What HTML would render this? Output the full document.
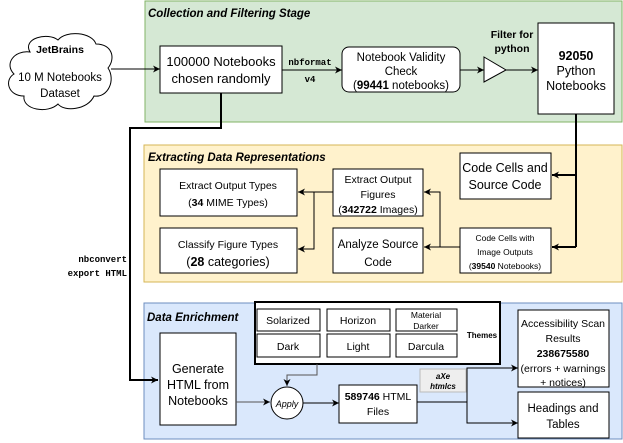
<!DOCTYPE html>
<html><head><meta charset="utf-8"><style>
html,body{margin:0;padding:0;background:#fff}
svg{display:block}
text{font-family:"Liberation Sans",sans-serif;fill:#000}
.m{font-family:"Liberation Mono",monospace;font-weight:bold}
</style></head><body>
<svg width="623" height="443" viewBox="0 0 623 443" xmlns="http://www.w3.org/2000/svg">
<defs>
<marker id="a" markerWidth="8" markerHeight="8" refX="7" refY="4" orient="auto" markerUnits="userSpaceOnUse"><path d="M0,0.5 L7,4 L0,7.5 L2,4 Z" fill="#000"/></marker>
</defs>
<rect x="145" y="1" width="477" height="121" fill="#d5e8d4" stroke="#82b366"/>
<rect x="144" y="145" width="478" height="137" fill="#fff2cc" stroke="#d6b656"/>
<rect x="144" y="303" width="478" height="136" fill="#dae8fc" stroke="#6c8ebf"/>
<text x="148" y="17" font-size="11.5" font-weight="bold" font-style="italic">Collection and Filtering Stage</text>
<text x="148" y="161" font-size="11.5" font-weight="bold" font-style="italic">Extracting Data Representations</text>
<text x="147" y="321" font-size="11.5" font-weight="bold" font-style="italic">Data Enrichment</text>

<path d="M30,52 C22,38 48,32 58,40 C66,30 92,32 96,44 C112,44 116,58 108,68 C116,80 108,98 94,96 C88,110 64,112 58,104 C48,114 22,110 24,96 C8,96 4,80 14,74 C4,64 14,50 30,52 Z" fill="#fff" stroke="#000"/>
<text x="60" y="53" font-size="10.5" font-weight="bold" text-anchor="middle">JetBrains</text>
<text x="60" y="81" font-size="11.5" text-anchor="middle">10 M Notebooks</text>
<text x="60" y="97" font-size="11.5" text-anchor="middle">Dataset</text>
<line x1="111" y1="69" x2="160" y2="69" stroke="#000" marker-end="url(#a)"/>

<rect x="160" y="46" width="122" height="47" fill="#fff" stroke="#000"/>
<text x="221" y="66" font-size="13" text-anchor="middle">100000 Notebooks</text>
<text x="221" y="83" font-size="13" text-anchor="middle">chosen randomly</text>
<line x1="282" y1="70" x2="342" y2="70" stroke="#000" marker-end="url(#a)"/>
<text x="310" y="65" font-size="9" class="m" text-anchor="middle">nbformat</text>
<text x="310" y="82" font-size="9" class="m" text-anchor="middle">v4</text>

<rect x="342" y="47" width="118" height="45" rx="7" fill="#fff" stroke="#000"/>
<text x="401" y="61" font-size="11.5" text-anchor="middle">Notebook Validity</text>
<text x="401" y="75" font-size="11.5" text-anchor="middle">Check</text>
<text x="401" y="89" font-size="11.5" text-anchor="middle">(<tspan font-weight="bold">99441</tspan> notebooks)</text>
<line x1="460" y1="70" x2="484" y2="70" stroke="#000" marker-end="url(#a)"/>
<path d="M484,57 L506,70 L484,82 Z" fill="#fff" stroke="#000"/>
<text x="512" y="38" font-size="10.5" font-weight="bold" text-anchor="middle">Filter for</text>
<text x="512" y="52" font-size="10.5" font-weight="bold" text-anchor="middle">python</text>
<line x1="506" y1="70" x2="538" y2="70" stroke="#000" marker-end="url(#a)"/>

<rect x="538" y="23" width="76" height="91" fill="#fff" stroke="#000"/>
<text x="576" y="60" font-size="12.5" font-weight="bold" text-anchor="middle">92050</text>
<text x="576" y="75" font-size="12.5" text-anchor="middle">Python</text>
<text x="576" y="90" font-size="12.5" text-anchor="middle">Notebooks</text>

<polyline points="221,93 221,128 130,128 130,380 158,380" fill="none" stroke="#000" stroke-width="2" marker-end="url(#a)"/>
<text x="127" y="262" font-size="9" class="m" text-anchor="end">nbconvert</text>
<text x="127" y="276" font-size="9" class="m" text-anchor="end">export HTML</text>

<polyline points="576,114 576,247" fill="none" stroke="#000" stroke-width="2"/>
<line x1="576" y1="175" x2="552" y2="175" stroke="#000" stroke-width="2" marker-end="url(#a)"/>
<line x1="576" y1="247" x2="552" y2="247" stroke="#000" stroke-width="2" marker-end="url(#a)"/>

<rect x="160" y="169" width="137" height="47" fill="#fff" stroke="#000"/>
<text x="228" y="189" font-size="10.5" text-anchor="middle">Extract Output Types</text>
<text x="228" y="206" font-size="10.5" text-anchor="middle">(<tspan font-weight="bold">34</tspan> MIME Types)</text>
<rect x="160" y="228" width="137" height="45" fill="#fff" stroke="#000"/>
<text x="228" y="248" font-size="10.5" text-anchor="middle">Classify Figure Types</text>
<text x="228" y="266" font-size="12.5" text-anchor="middle">(<tspan font-weight="bold">28</tspan> categories)</text>
<rect x="333" y="169" width="90" height="47" fill="#fff" stroke="#000"/>
<text x="378" y="183" font-size="10.5" text-anchor="middle">Extract Output</text>
<text x="378" y="198" font-size="10.5" text-anchor="middle">Figures</text>
<text x="378" y="213" font-size="10.5" text-anchor="middle">(<tspan font-weight="bold">342722</tspan> Images)</text>
<rect x="333" y="228" width="90" height="45" fill="#fff" stroke="#000"/>
<text x="378" y="248" font-size="11.5" text-anchor="middle">Analyze Source</text>
<text x="378" y="266" font-size="11.5" text-anchor="middle">Code</text>
<rect x="460" y="153" width="91" height="46" fill="#fff" stroke="#000"/>
<text x="505" y="172" font-size="12.5" text-anchor="middle">Code Cells and</text>
<text x="505" y="189" font-size="12.5" text-anchor="middle">Source Code</text>
<rect x="460" y="228" width="91" height="45" fill="#fff" stroke="#000"/>
<text x="505" y="241" font-size="8.5" text-anchor="middle">Code Cells with</text>
<text x="505" y="255" font-size="8.5" text-anchor="middle">Image Outputs</text>
<text x="505" y="269" font-size="8.5" text-anchor="middle">(<tspan font-weight="bold">39540</tspan> Notebooks)</text>
<line x1="460" y1="247" x2="424" y2="247" stroke="#000" marker-end="url(#a)"/>
<polyline points="440,247 440,192 424,192" fill="none" stroke="#000" marker-end="url(#a)"/>
<line x1="333" y1="192" x2="298" y2="192" stroke="#000" marker-end="url(#a)"/>
<polyline points="314,192 314,249 298,249" fill="none" stroke="#000" marker-end="url(#a)"/>

<rect x="255" y="302" width="245" height="62" fill="#fff" stroke="#000" stroke-width="2"/>
<rect x="257" y="309" width="63" height="22" fill="#fff" stroke="#000"/>
<rect x="327" y="309" width="63" height="22" fill="#fff" stroke="#000"/>
<rect x="396" y="309" width="61" height="22" fill="#fff" stroke="#000"/>
<rect x="257" y="334" width="63" height="23" fill="#fff" stroke="#000"/>
<rect x="327" y="334" width="63" height="23" fill="#fff" stroke="#000"/>
<rect x="396" y="334" width="61" height="23" fill="#fff" stroke="#000"/>
<text x="288" y="324" font-size="10.5" text-anchor="middle">Solarized</text>
<text x="358" y="324" font-size="10.5" text-anchor="middle">Horizon</text>
<text x="426" y="318" font-size="8.5" text-anchor="middle">Material</text>
<text x="426" y="329" font-size="8.5" text-anchor="middle">Darker</text>
<text x="288" y="350" font-size="10.5" text-anchor="middle">Dark</text>
<text x="358" y="350" font-size="10.5" text-anchor="middle">Light</text>
<text x="426" y="350" font-size="10.5" text-anchor="middle">Darcula</text>
<text x="482" y="338" font-size="8" font-weight="bold" text-anchor="middle">Themes</text>
<polyline points="317,364 317,375 287,375 287,386" fill="none" stroke="#555" marker-end="url(#a)"/>

<rect x="160" y="333" width="76" height="92" fill="#fff" stroke="#000"/>
<text x="198" y="373" font-size="12.5" text-anchor="middle">Generate</text>
<text x="198" y="389" font-size="12.5" text-anchor="middle">HTML from</text>
<text x="198" y="405" font-size="12.5" text-anchor="middle">Notebooks</text>
<line x1="236" y1="402" x2="270" y2="402" stroke="#555" marker-end="url(#a)"/>
<circle cx="287" cy="403" r="16" fill="#fff" stroke="#000"/>
<text x="287" y="407" font-size="9" font-style="italic" text-anchor="middle">Apply</text>
<line x1="303" y1="403" x2="339" y2="403" stroke="#000" marker-end="url(#a)"/>
<rect x="339" y="385" width="78" height="38" fill="#fff" stroke="#000"/>
<text x="378" y="400" font-size="10.5" text-anchor="middle"><tspan font-weight="bold">589746</tspan> HTML</text>
<text x="378" y="415" font-size="10.5" text-anchor="middle">Files</text>
<line x1="417" y1="402" x2="467" y2="402" stroke="#000"/>
<polyline points="517,368 467,368 467,423 517,423" fill="none" stroke="#000"/>
<line x1="500" y1="368" x2="518" y2="368" stroke="#000" marker-end="url(#a)"/>
<line x1="500" y1="423" x2="518" y2="423" stroke="#000" marker-end="url(#a)"/>
<rect x="420" y="369" width="46" height="23" fill="#eee" stroke="#bbb"/>
<text x="443" y="379" font-size="8" font-weight="bold" font-style="italic" fill="#444" text-anchor="middle">aXe</text>
<text x="443" y="389" font-size="8" font-weight="bold" font-style="italic" fill="#444" text-anchor="middle">htmlcs</text>

<rect x="518" y="310" width="91" height="77" fill="#fff" stroke="#000"/>
<text x="563" y="327" font-size="10.5" text-anchor="middle">Accessibility Scan</text>
<text x="563" y="342" font-size="10.5" text-anchor="middle">Results</text>
<text x="563" y="357" font-size="10.5" font-weight="bold" text-anchor="middle">238675580</text>
<text x="563" y="372" font-size="10.5" text-anchor="middle">(errors + warnings</text>
<text x="563" y="386" font-size="10.5" text-anchor="middle">+ notices)</text>
<rect x="518" y="392" width="91" height="46" fill="#fff" stroke="#000"/>
<text x="563" y="412" font-size="11.5" text-anchor="middle">Headings and</text>
<text x="563" y="428" font-size="11.5" text-anchor="middle">Tables</text>
</svg>
</body></html>
